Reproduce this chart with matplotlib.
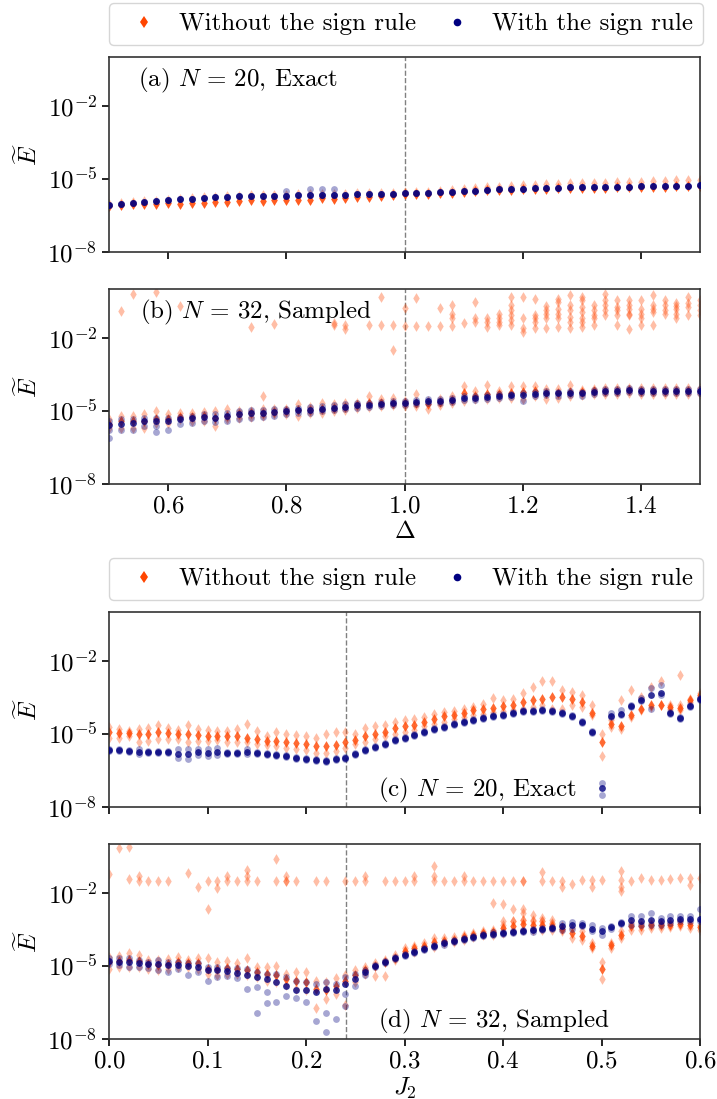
import numpy as np
import matplotlib
matplotlib.use("Agg")
import matplotlib.pyplot as plt
from matplotlib.lines import Line2D
from matplotlib.ticker import NullLocator

# =============================================================================
# DATA (log10 of the relative energy error)
# =============================================================================

# Sumbu x
x_delta = np.round(np.arange(0.50, 1.501, 0.02), 2)
x_j2 = np.round(np.arange(0.00, 0.601, 0.01), 2)

# --- (a) N = 20, exact, Delta sweep
a_blue_mid = [-6.06, -6.02, -5.98, -5.95, -5.92, -5.88, -5.84, -5.81, -5.79, -5.76,
              -5.74, -5.72, -5.70, -5.70, -5.69, -5.69, -5.67, -5.65, -5.65, -5.65,
              -5.65, -5.63, -5.62, -5.62, -5.61, -5.59, -5.59, -5.58, -5.54, -5.54,
              -5.51, -5.48, -5.44, -5.43, -5.41, -5.40, -5.39, -5.37, -5.36, -5.34,
              -5.34, -5.34, -5.33, -5.32, -5.32, -5.30, -5.29, -5.29, -5.28, -5.28, -5.26]
a_orange_lo = [-6.10, -6.08, -6.05, -6.05, -6.02, -6.00, -6.05, -5.98, -5.98, -5.95,
               -5.95, -5.90, -5.88, -5.90, -5.88, -5.85, -5.85, -5.85, -5.80, -5.82,
               -5.78, -5.75, -5.75, -5.70, -5.66, -5.62, -5.62, -5.61, -5.57, -5.57,
               -5.54, -5.51, -5.47, -5.46, -5.44, -5.43, -5.42, -5.40, -5.39, -5.37,
               -5.37, -5.37, -5.36, -5.35, -5.35, -5.33, -5.32, -5.32, -5.31, -5.31, -5.29]
a_orange_hi = [-6.03, -5.99, -5.95, -5.92, -5.89, -5.85, -5.81, -5.78, -5.76, -5.73,
               -5.71, -5.69, -5.67, -5.67, -5.66, -5.66, -5.64, -5.62, -5.62, -5.62,
               -5.62, -5.59, -5.58, -5.57, -5.56, -5.55, -5.54, -5.52, -5.48, -5.46,
               -5.42, -5.38, -5.35, -5.32, -5.28, -5.26, -5.24, -5.22, -5.21, -5.18,
               -5.17, -5.16, -5.15, -5.13, -5.12, -5.11, -5.10, -5.07, -5.06, -5.06, -5.06]
a_blue_out_x = [0.80, 0.84, 0.86, 0.88]
a_blue_out_y = [-5.50, -5.40, -5.42, -5.40]

# --- (b) N = 32, sampled, Delta sweep
b_blue_mid = [-5.56, -5.52, -5.49, -5.42, -5.42, -5.42, -5.35, -5.31, -5.26, -5.28,
              -5.19, -5.14, -5.10, -5.08, -5.05, -5.02, -4.97, -4.97, -4.91, -4.87,
              -4.83, -4.77, -4.74, -4.72, -4.69, -4.66, -4.62, -4.58, -4.58, -4.54,
              -4.47, -4.46, -4.43, -4.39, -4.36, -4.33, -4.30, -4.26, -4.28, -4.26,
              -4.28, -4.22, -4.19, -4.17, -4.14, -4.17, -4.19, -4.17, -4.17, -4.17, -4.17]
b_blue_lo = [-5.77, -5.79, -5.79, -5.63, -5.63, -5.77, -5.52, -5.49, -5.42, -5.46,
             -5.42, -5.35, -5.28, -5.24, -5.19, -5.14, -5.10, -5.08, -5.02, -4.98,
             -4.94, -4.88, -4.86, -4.80, -4.77, -4.74, -4.70, -4.66, -4.66, -4.62,
             -4.56, -4.55, -4.52, -4.48, -4.45, -4.59, -4.39, -4.35, -4.37, -4.35,
             -4.38, -4.31, -4.28, -4.26, -4.23, -4.25, -4.27, -4.25, -4.25, -4.25, -4.25]
b_blue_hi = [-5.42, -5.35, -5.32, -5.28, -5.28, -5.28, -5.24, -5.19, -5.14, -5.14,
             -5.08, -5.01, -4.98, -4.97, -4.94, -4.91, -4.87, -4.86, -4.81, -4.77,
             -4.73, -4.69, -4.66, -4.63, -4.61, -4.58, -4.55, -4.51, -4.51, -4.47,
             -4.40, -4.39, -4.36, -4.32, -4.29, -4.26, -4.23, -4.19, -4.21, -4.19,
             -4.21, -4.15, -4.12, -4.10, -4.07, -4.10, -4.12, -4.10, -4.10, -4.10, -4.10]
b_blue_out_x = [0.50, 0.58]
b_blue_out_y = [-6.11, -5.88]
b_orange_lo = [-5.70, -5.70, -5.70, -5.70, -5.49, -5.49, -5.35, -5.42, -5.42, -5.63,
               -5.35, -5.28, -5.24, -5.21, -5.14, -5.14, -5.21, -5.08, -5.08, -5.01,
               -4.98, -4.88, -4.85, -4.80, -4.77, -4.80, -4.80, -4.94, -4.77, -4.66,
               -4.59, -4.52, -4.52, -4.46, -4.46, -4.52, -4.39, -4.52, -4.46, -4.39,
               -4.35, -4.32, -4.32, -4.32, -4.28, -4.32, -4.32, -4.30, -4.30, -4.30, -4.30]
b_orange_mid = [-5.52, -5.42, -5.42, -5.42, -5.35, -5.35, -5.24, -5.26, -5.21, -5.28,
                -5.19, -5.14, -5.10, -5.08, -5.05, -5.02, -4.97, -4.97, -4.91, -4.87,
                -4.83, -4.77, -4.69, -4.69, -4.66, -4.66, -4.66, -4.72, -4.63, -4.55,
                -4.25, -4.39, -4.32, -4.32, -4.25, -4.22, -4.18, -4.25, -4.25, -4.22,
                -4.22, -4.18, -4.17, -4.17, -4.14, -4.17, -4.19, -4.17, -4.17, -4.17, -4.17]
b_orange_hi = [-5.32, -5.19, -5.21, -5.14, -5.01, -5.14, -5.08, -5.08, -5.05, -5.01,
               -4.94, -5.01, -5.01, -4.94, -4.94, -4.91, -4.73, -4.86, -4.66, -4.73,
               -4.69, -4.66, -4.39, -4.50, -4.46, -4.59, -4.32, -4.59, -4.50, -4.41,
               -3.97, -4.18, -3.94, -4.18, -3.97, -3.97, -3.97, -4.11, -4.11, -3.94,
               -4.14, -4.11, -4.08, -4.08, -4.08, -4.08, -4.08, -4.08, -4.08, -4.08, -4.08]
# titik orange yang lepas (upper cluster)
b_orange_out_x = [0.52, 0.54, 0.58, 0.62, 0.74, 0.76, 0.78, 0.88, 0.88, 0.90, 0.90, 0.94,
                  0.96, 0.96, 0.98, 0.98, 1.00, 1.00, 1.02, 1.02, 1.04, 1.06, 1.06,
                  1.08, 1.08, 1.08, 1.08, 1.10, 1.12, 1.12, 1.12, 1.14, 1.14, 1.14,
                  1.16, 1.16, 1.16, 1.16, 1.18, 1.18, 1.18, 1.18, 1.18, 1.18,
                  1.20, 1.20, 1.20, 1.20, 1.22, 1.22, 1.22, 1.22, 1.22,
                  1.24, 1.24, 1.24, 1.24, 1.24, 1.26, 1.26, 1.26, 1.26, 1.26, 1.26,
                  1.28, 1.28, 1.28, 1.28, 1.28, 1.28, 1.30, 1.30, 1.30, 1.30, 1.30, 1.30, 1.30,
                  1.32, 1.32, 1.32, 1.32, 1.32, 1.34, 1.34, 1.34, 1.34, 1.34,
                  1.36, 1.36, 1.36, 1.36, 1.36, 1.38, 1.38, 1.38, 1.38, 1.38, 1.38,
                  1.40, 1.40, 1.40, 1.40, 1.40, 1.42, 1.42, 1.42, 1.42, 1.42,
                  1.44, 1.44, 1.44, 1.44, 1.46, 1.46, 1.46, 1.46, 1.46,
                  1.48, 1.48, 1.48, 1.48, 1.50, 1.50, 1.50, 1.50]
b_orange_out_y = [-0.91, -0.22, -0.14, -0.70, -1.56, -4.39, -1.42, -1.38, -1.49, -1.49, -1.63, -1.49,
                  -0.32, -1.49, -1.49, -2.52, -0.77, -1.52, -0.36, -1.52, -1.52, -0.77, -1.52,
                  -0.66, -1.01, -1.21, -1.52, -1.38, -0.52, -1.21, -1.35, -1.21, -1.35, -1.56,
                  -1.01, -1.21, -1.35, -1.49, -0.32, -0.66, -0.87, -1.08, -1.28, -1.49,
                  -0.32, -1.21, -1.60, -1.77, -0.39, -1.08, -1.21, -1.35, -1.60,
                  -0.69, -0.87, -1.01, -1.21, -1.60, -0.39, -0.52, -0.80, -1.01, -1.21, -1.56,
                  -0.25, -0.66, -0.87, -1.14, -1.35, -1.60, -0.32, -0.46, -0.73, -0.94, -1.21, -1.35, -1.56,
                  -0.66, -0.87, -1.08, -1.21, -1.46, -0.22, -0.46, -0.66, -0.87, -1.08,
                  -0.46, -0.73, -0.87, -1.08, -1.46, -0.46, -0.66, -0.80, -1.01, -1.08, -1.63,
                  -0.46, -0.80, -1.01, -1.21, -1.49, -0.25, -0.66, -0.80, -0.94, -1.49,
                  -0.46, -0.66, -0.87, -1.01, -0.59, -0.69, -0.80, -1.01, -1.21,
                  -0.32, -0.59, -0.73, -1.08, -0.46, -0.66, -0.87, -1.08]

# --- (c) N = 20, exact, J2 sweep
c_blue_mid = [-5.66, -5.67, -5.70, -5.74, -5.74, -5.74, -5.74, -5.81, -5.81, -5.74,
              -5.77, -5.74, -5.77, -5.77, -5.74, -5.77, -5.84, -5.87, -5.91, -5.98,
              -6.02, -6.08, -6.11, -6.05, -5.98, -5.84, -5.67, -5.54, -5.40, -5.26,
              -5.15, -5.03, -4.91, -4.81, -4.71, -4.60, -4.51, -4.42, -4.35, -4.27,
              -4.21, -4.14, -4.08, -4.05, -4.03, -4.08, -4.14, -4.28, -4.52, -4.94,
              -7.23, -4.28, -4.17, -3.85, -3.62, -3.41, -3.34, -4.16, -4.35, -3.85, -3.57]
c_blue_lo = [-5.70, -5.71, -5.74, -5.84, -5.78, -5.78, -5.78, -5.98, -6.02, -5.88,
             -5.91, -5.88, -5.81, -5.81, -5.84, -5.81, -5.88, -5.91, -5.95, -6.02,
             -6.06, -6.12, -6.15, -6.09, -6.02, -5.88, -5.71, -5.58, -5.44, -5.30,
             -5.19, -5.07, -4.95, -4.85, -4.75, -4.64, -4.55, -4.46, -4.39, -4.31,
             -4.25, -4.18, -4.12, -4.09, -4.07, -4.12, -4.18, -4.32, -4.56, -4.98,
             -7.51, -4.32, -4.21, -3.89, -3.66, -3.99, -3.41, -4.20, -4.39, -3.89, -3.61]
c_blue_hi = [-5.62, -5.63, -5.66, -5.63, -5.70, -5.70, -5.70, -5.63, -5.63, -5.60,
             -5.63, -5.56, -5.73, -5.73, -5.63, -5.73, -5.80, -5.83, -5.87, -5.94,
             -5.98, -6.04, -6.07, -6.01, -5.94, -5.80, -5.63, -5.50, -5.36, -5.22,
             -5.11, -4.99, -4.87, -4.77, -4.67, -4.56, -4.47, -4.38, -4.31, -4.23,
             -4.17, -4.10, -4.04, -4.01, -3.99, -4.04, -4.10, -4.24, -4.48, -4.90,
             -7.02, -4.13, -4.03, -3.81, -3.52, -3.13, -2.99, -4.12, -4.31, -3.81, -3.53]
c_orange_lo = [-5.15, -5.15, -5.08, -5.35, -5.29, -5.22, -5.22, -5.22, -5.33, -5.29,
               -5.29, -5.24, -5.35, -5.35, -5.35, -5.42, -5.47, -5.49, -5.56, -5.63,
               -5.66, -5.77, -5.77, -5.70, -5.56, -5.42, -5.35, -5.22, -5.10, -5.01,
               -4.91, -4.83, -4.69, -4.59, -4.52, -4.41, -4.31, -4.24, -4.17, -4.10,
               -4.08, -4.03, -3.96, -3.89, -3.82, -3.96, -3.96, -3.82, -3.89, -4.24,
               -5.91, -4.73, -4.80, -4.31, -4.03, -3.89, -3.82, -3.96, -4.03, -3.69, -3.48]
c_orange_mid = [-4.94, -4.97, -4.98, -5.01, -5.01, -4.94, -4.98, -5.01, -5.01, -5.05,
                -5.08, -5.08, -5.10, -5.10, -5.15, -5.22, -5.29, -5.29, -5.35, -5.38,
                -5.42, -5.49, -5.49, -5.47, -5.35, -5.24, -5.10, -5.01, -4.91, -4.77,
                -4.69, -4.63, -4.52, -4.38, -4.28, -4.21, -4.13, -4.03, -3.96, -3.94,
                -3.85, -3.80, -3.69, -3.62, -3.55, -3.48, -3.48, -3.55, -3.69, -4.13,
                -5.35, -4.59, -4.66, -4.24, -3.96, -3.80, -3.80, -3.89, -3.94, -3.63, -3.41]
c_orange_hi = [-4.73, -4.80, -4.87, -4.80, -4.77, -4.63, -4.77, -4.83, -4.63, -4.80,
               -4.83, -4.87, -4.87, -4.80, -4.59, -4.87, -5.08, -4.94, -5.01, -5.05,
               -5.10, -5.15, -5.01, -4.94, -4.91, -5.01, -4.77, -4.69, -4.63, -4.52,
               -4.45, -4.41, -4.31, -4.17, -4.10, -4.08, -3.96, -3.89, -3.76, -3.52,
               -3.62, -3.57, -3.34, -3.06, -2.85, -2.85, -3.20, -3.27, -3.41, -3.80,
               -5.01, -4.45, -3.62, -3.20, -3.48, -3.06, -2.85, -3.80, -3.82, -3.55, -3.34]
c_orange_out_x = [0.58]
c_orange_out_y = [-2.57]

# --- (d) N = 32, sampled, J2 sweep
d_blue_mid = [-4.81, -4.83, -4.86, -4.90, -4.93, -4.93, -4.97, -4.97, -5.01, -5.04,
              -5.18, -5.18, -5.22, -5.28, -5.36, -5.46, -5.53, -5.67, -5.81, -6.01,
              -6.01, -6.08, -5.94, -6.01, -5.74, -5.53, -5.25, -5.00, -4.83, -4.67,
              -4.56, -4.42, -4.31, -4.18, -4.08, -3.99, -3.89, -3.81, -3.74, -3.68,
              -3.64, -3.60, -3.57, -3.54, -3.49, -3.44, -3.38, -3.33, -3.31, -3.47,
              -3.58, -3.42, -3.24, -3.10, -3.17, -3.10, -3.17, -3.10, -3.06, -3.06, -3.06]
d_blue_lo = [-4.94, -4.97, -5.04, -5.04, -5.08, -5.18, -5.25, -5.11, -5.36, -5.25,
             -5.60, -5.46, -5.42, -5.50, -5.94, -5.88, -6.08, -6.50, -6.22, -6.33,
             -6.50, -7.26, -6.92, -7.19, -6.15, -5.81, -5.39, -5.05, -4.88, -4.72,
             -4.61, -4.47, -4.36, -4.23, -4.13, -4.04, -3.94, -3.86, -3.79, -3.73,
             -3.69, -3.65, -3.62, -3.59, -3.54, -3.49, -3.51, -3.47, -3.38, -3.58,
             -3.72, -3.47, -3.29, -3.31, -3.33, -3.31, -3.33, -3.24, -3.17, -3.17, -3.17]
d_blue_hi = [-4.67, -4.69, -4.69, -4.76, -4.83, -4.76, -4.83, -4.83, -4.90, -4.90,
             -5.04, -5.04, -5.08, -5.08, -5.11, -5.25, -5.32, -5.32, -5.46, -5.60,
             -5.67, -5.74, -5.67, -5.74, -5.46, -5.32, -5.18, -4.95, -4.78, -4.62,
             -4.51, -4.37, -4.26, -4.13, -4.03, -3.94, -3.84, -3.76, -3.69, -3.63,
             -3.59, -3.55, -3.52, -3.49, -3.44, -3.39, -3.24, -3.19, -3.24, -3.31,
             -3.44, -3.37, -3.19, -2.96, -2.96, -2.82, -3.03, -2.96, -2.96, -2.96, -2.68]
d_blue_out_x = [0.15, 0.16, 0.22, 0.24]
d_blue_out_y = [-6.92, -6.53, -7.72, -6.64]
d_orange_lo = [-5.11, -5.04, -5.04, -5.04, -5.11, -5.18, -5.14, -5.04, -5.04, -5.11,
               -5.32, -5.36, -5.32, -5.32, -5.39, -5.46, -5.60, -5.67, -5.78, -5.94,
               -6.01, -6.71, -6.36, -6.15, -6.61, -5.67, -5.32, -5.42, -5.42, -4.76,
               -4.49, -4.42, -4.28, -4.21, -4.07, -4.03, -3.93, -3.83, -3.75, -3.72,
               -3.65, -3.58, -3.51, -3.51, -3.51, -3.51, -3.58, -3.86, -3.93, -4.28,
               -5.53, -4.28, -3.86, -3.51, -3.51, -3.44, -3.44, -3.42, -3.38, -3.44, -3.51]
d_orange_mid = [-4.83, -4.81, -4.76, -4.81, -4.93, -4.97, -4.94, -4.83, -4.90, -4.90,
                -5.11, -5.11, -5.08, -5.11, -5.18, -5.25, -5.32, -5.39, -5.53, -5.60,
                -5.67, -5.94, -6.01, -5.81, -5.60, -5.39, -5.18, -5.00, -4.86, -4.67,
                -4.39, -4.28, -4.17, -4.03, -3.97, -3.93, -3.83, -3.74, -3.67, -3.61,
                -3.44, -3.38, -3.28, -3.33, -3.33, -3.38, -3.47, -3.65, -3.79, -4.17,
                -5.14, -4.14, -3.75, -3.38, -3.38, -3.33, -3.33, -3.33, -3.28, -3.33, -3.42]
d_orange_hi = [-4.63, -4.58, -4.49, -4.56, -4.76, -4.76, -4.72, -4.63, -4.76, -4.69,
               -4.69, -4.86, -4.81, -4.90, -4.67, -5.04, -5.04, -5.00, -5.32, -5.25,
               -5.25, -5.60, -5.67, -5.50, -5.39, -5.18, -5.04, -4.90, -4.76, -4.56,
               -4.28, -4.17, -4.07, -3.86, -3.86, -3.83, -3.72, -3.65, -3.58, -3.51,
               -3.31, -3.14, -3.10, -3.17, -3.17, -3.24, -3.38, -3.44, -3.58, -4.07,
               -4.83, -4.07, -3.58, -3.24, -3.24, -3.24, -3.24, -3.24, -3.17, -3.24, -3.33]
d_orange_out_x = [0.00, 0.01, 0.02, 0.02, 0.03, 0.03, 0.04, 0.05, 0.06, 0.08, 0.09,
                  0.10, 0.10, 0.11, 0.11, 0.12, 0.12, 0.13, 0.14, 0.14, 0.14, 0.15,
                  0.17, 0.17, 0.18, 0.18, 0.18, 0.19, 0.21, 0.22, 0.24, 0.25, 0.26, 0.26,
                  0.28, 0.29, 0.30, 0.31, 0.31, 0.33, 0.33, 0.33, 0.34, 0.35, 0.36, 0.36,
                  0.37, 0.38, 0.39, 0.40, 0.41, 0.42, 0.42, 0.44, 0.44, 0.45, 0.46, 0.46,
                  0.47, 0.48, 0.49, 0.49, 0.50, 0.52, 0.52, 0.52, 0.52, 0.53, 0.54, 0.55,
                  0.56, 0.57, 0.58, 0.59, 0.59, 0.60,
                  0.39, 0.40, 0.40, 0.41, 0.41, 0.42, 0.42, 0.42, 0.43, 0.43, 0.44, 0.44,
                  0.45, 0.45]
d_orange_out_y = [-1.22, -0.18, -0.14, -1.43, -1.33, -1.50, -1.50, -1.50, -1.50, -1.19, -1.78,
                  -1.50, -2.68, -1.50, -1.81, -1.33, -1.50, -1.50, -1.08, -1.33, -1.50, -1.50,
                  -0.60, -1.50, -1.33, -1.50, -1.50, -1.50, -1.50, -1.50, -1.50, -1.50, -1.33, -1.50,
                  -1.50, -1.50, -1.50, -1.33, -1.50, -0.92, -1.33, -1.50, -1.50, -1.50, -1.33, -1.50,
                  -1.50, -1.50, -1.50, -1.50, -1.50, -1.50, -1.50, -1.15, -1.50, -1.50, -1.50, -1.75,
                  -1.64, -1.47, -1.47, -1.78, -1.47, -1.11, -1.47, -1.78, -1.92, -1.50, -1.40, -1.47,
                  -1.47, -1.43, -1.39, -1.39, -1.67, -1.39,
                  -2.40, -2.47, -3.17, -2.68, -3.14, -2.68, -2.82, -3.10, -2.92, -3.10, -3.03, -3.17,
                  -3.10, -3.28]

# =============================================================================
# STYLE
# =============================================================================

ORANGE = "#FF4500"
NAVY = "#000080"
FONT_SIZE = 18

plt.rcParams.update({
    "font.family": "serif",
    "font.serif": ["cmr10"],
    "mathtext.fontset": "cm",
    "axes.formatter.use_mathtext": True,
    "font.size": FONT_SIZE,
    "axes.linewidth": 1.2,
    "axes.edgecolor": "#333333",
})


# Fungsi untuk menggambar satu deret (lo / mid / hi)
def draw_band(ax, x, lo, mid, hi, color, marker, size):
    for vals, alpha in ((lo, 0.35), (hi, 0.35), (mid, 0.8)):
        ax.scatter(x, 10.0 ** np.asarray(vals), c=color, marker=marker, s=size,
                   alpha=alpha, linewidths=0, zorder=2 if color == ORANGE else 3)


# Fungsi untuk titik outlier
def draw_points(ax, x, y, color, marker, size):
    ax.scatter(x, 10.0 ** np.asarray(y), c=color, marker=marker, s=size,
               alpha=0.35, linewidths=0, zorder=2 if color == ORANGE else 3)


# Fungsi untuk format sumbu
def style_axis(ax, xlim, xticks, vline, show_xlabels):
    ax.set_yscale("log")
    ax.set_ylim(1e-8, 1.0)
    ax.set_yticks([1e-8, 1e-5, 1e-2])
    ax.yaxis.set_minor_locator(NullLocator())
    ax.set_xlim(*xlim)
    ax.set_xticks(xticks)
    if not show_xlabels:
        ax.set_xticklabels([])
    ax.axvline(vline, color="gray", ls="--", lw=1.0, zorder=1)
    ax.set_ylabel(r"$\widetilde{E}$")
    ax.tick_params(direction="out", length=5, width=1.2)


def add_legend(ax):
    handles = [
        Line2D([], [], ls="none", marker="d", color=ORANGE, markersize=6, markeredgewidth=0),
        Line2D([], [], ls="none", marker="o", color=NAVY, markersize=5.5, markeredgewidth=0),
    ]
    labels = ["Without the sign rule", "With the sign rule"]
    ax.legend(handles, labels, loc="lower left", bbox_to_anchor=(0, 1.06, 1.005, 0.2),
              mode="expand", ncol=2, borderaxespad=0, fontsize=FONT_SIZE,
              handletextpad=0.4, columnspacing=1.0)


def main():
    fig = plt.figure(figsize=(7.17, 10.99), dpi=100)
    left, width, height = 109 / 717, 591 / 717, 195 / 1099
    tops = [57, 289, 612, 844]
    axes = [fig.add_axes([left, 1 - (t + 195) / 1099, width, height]) for t in tops]
    ax_a, ax_b, ax_c, ax_d = axes

    MS_O, MS_B = 30, 24

    # (a)
    draw_band(ax_a, x_delta, a_orange_lo, a_orange_lo, a_orange_hi, ORANGE, "d", MS_O)
    draw_band(ax_a, x_delta, a_blue_mid, a_blue_mid, a_blue_mid, NAVY, "o", MS_B)
    draw_points(ax_a, a_blue_out_x, a_blue_out_y, NAVY, "o", MS_B)
    style_axis(ax_a, (0.5, 1.5), [0.6, 0.8, 1.0, 1.2, 1.4], 1.0, False)
    ax_a.text(0.049, 0.88, r"(a) $N\,=\,20$, Exact", transform=ax_a.transAxes, va="center")
    add_legend(ax_a)

    # (b)
    draw_band(ax_b, x_delta, b_orange_lo, b_orange_mid, b_orange_hi, ORANGE, "d", MS_O)
    draw_points(ax_b, b_orange_out_x, b_orange_out_y, ORANGE, "d", MS_O)
    draw_band(ax_b, x_delta, b_blue_lo, b_blue_mid, b_blue_hi, NAVY, "o", MS_B)
    draw_points(ax_b, b_blue_out_x, b_blue_out_y, NAVY, "o", MS_B)
    style_axis(ax_b, (0.5, 1.5), [0.6, 0.8, 1.0, 1.2, 1.4], 1.0, True)
    ax_b.set_xlabel(r"$\Delta$", labelpad=2)
    ax_b.text(0.052, 0.88, r"(b) $N\,=\,32$, Sampled", transform=ax_b.transAxes, va="center")

    # (c)
    draw_band(ax_c, x_j2, c_orange_lo, c_orange_mid, c_orange_hi, ORANGE, "d", MS_O)
    draw_points(ax_c, c_orange_out_x, c_orange_out_y, ORANGE, "d", MS_O)
    draw_band(ax_c, x_j2, c_blue_lo, c_blue_mid, c_blue_hi, NAVY, "o", MS_B)
    style_axis(ax_c, (0.0, 0.6), [0.0, 0.1, 0.2, 0.3, 0.4, 0.5, 0.6], 0.2411, False)
    ax_c.text(0.455, 0.087, r"(c) $N\,=\,20$, Exact", transform=ax_c.transAxes, va="center")
    add_legend(ax_c)

    # (d)
    draw_band(ax_d, x_j2, d_orange_lo, d_orange_mid, d_orange_hi, ORANGE, "d", MS_O)
    draw_points(ax_d, d_orange_out_x, d_orange_out_y, ORANGE, "d", MS_O)
    draw_band(ax_d, x_j2, d_blue_lo, d_blue_mid, d_blue_hi, NAVY, "o", MS_B)
    draw_points(ax_d, d_blue_out_x, d_blue_out_y, NAVY, "o", MS_B)
    style_axis(ax_d, (0.0, 0.6), [0.0, 0.1, 0.2, 0.3, 0.4, 0.5, 0.6], 0.2411, True)
    ax_d.set_xlabel(r"$J_2$", labelpad=2)
    ax_d.text(0.455, 0.092, r"(d) $N\,=\,32$, Sampled", transform=ax_d.transAxes, va="center")

    fig.savefig("out.png", dpi=100)
    plt.close(fig)


if __name__ == "__main__":
    main()
